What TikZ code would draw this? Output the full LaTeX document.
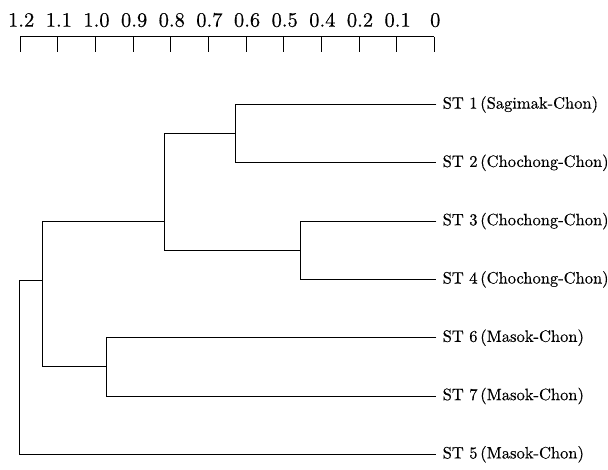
\documentclass[tikz,border=0pt]{standalone}
\usepackage{fontspec}
\newfontfamily\heavy{lmroman10-regular.otf}[FakeBold=0.4]
\begin{document}
\begin{tikzpicture}[x=1pt,y=-1pt,
  branch/.style={line width=0.8pt},
  leaflabel/.style={anchor=west,inner sep=0pt,font=\heavy\fontsize{16.5}{20}\selectfont},
  scalelabel/.style={anchor=base,inner sep=0pt,font=\heavy\fontsize{20.5}{24}\selectfont}]
\useasboundingbox (0,0) rectangle (608,469);
% scale
\foreach \i/\lab in {0/1.2,1/1.1,2/1.0,3/0.9,4/0.8,5/0.7,6/0.6,7/0.5,8/0.4,9/0.2,10/0.1,11/0}{
  \coordinate (t\i) at ({20.2+37.645*\i},36.7);
  \coordinate (b\i) at ({20.2+37.645*\i},51.7);
  \node[scalelabel] (s\i) at ({21.2+37.645*\i},26.7) {\lab};
  \draw[branch] (t\i) -- (b\i);
}
\draw[branch] (t0) -- (t11);
% leaf ends
\def\xe{436.3}
\coordinate (e1) at (\xe,104.5);
\coordinate (e2) at (\xe,162.8);
\coordinate (e3) at (\xe,221.1);
\coordinate (e4) at (\xe,279.4);
\coordinate (e6) at (\xe,337.7);
\coordinate (e7) at (\xe,396.0);
\coordinate (e5) at (\xe,454.3);
\node[leaflabel] (l1) at (442.5,104.5) {ST 1\,(Sagimak-Chon)};
\node[leaflabel] (l2) at (442.5,162.8) {ST 2\,(Chochong-Chon)};
\node[leaflabel] (l3) at (442.5,221.1) {ST 3\,(Chochong-Chon)};
\node[leaflabel] (l4) at (442.5,279.4) {ST 4\,(Chochong-Chon)};
\node[leaflabel] (l6) at (442.5,337.7) {ST 6\,(Masok-Chon)};
\node[leaflabel] (l7) at (442.5,396.0) {ST 7\,(Masok-Chon)};
\node[leaflabel] (l5) at (442.5,454.3) {ST 5\,(Masok-Chon)};
% internal nodes
\coordinate (a1) at (235.8,104.5);
\coordinate (a2) at (235.8,162.8);
\coordinate (a) at (235.8,133.6);
\coordinate (bb3) at (300.5,221.1);
\coordinate (bb4) at (300.5,279.4);
\coordinate (bb) at (300.5,250.3);
\coordinate (ca) at (164.8,133.6);
\coordinate (cb) at (164.8,250.3);
\coordinate (c) at (164.8,221.1);
\coordinate (d6) at (106.6,337.7);
\coordinate (d7) at (106.6,396.0);
\coordinate (d) at (106.6,366.8);
\coordinate (ec) at (42.8,221.1);
\coordinate (ed) at (42.8,366.8);
\coordinate (eroot) at (42.8,280.6);
\coordinate (r1) at (19.8,280.6);
\coordinate (r5) at (19.8,454.3);
% branches
\draw[branch] (e1) -- (a1) -- (a2) -- (e2);
\draw[branch] (e3) -- (bb3) -- (bb4) -- (e4);
\draw[branch] (a) -- (ca) -- (cb) -- (bb);
\draw[branch] (e6) -- (d6) -- (d7) -- (e7);
\draw[branch] (c) -- (ec) -- (ed) -- (d);
\draw[branch] (eroot) -- (r1) -- (r5) -- (e5);
\end{tikzpicture}
\end{document}
